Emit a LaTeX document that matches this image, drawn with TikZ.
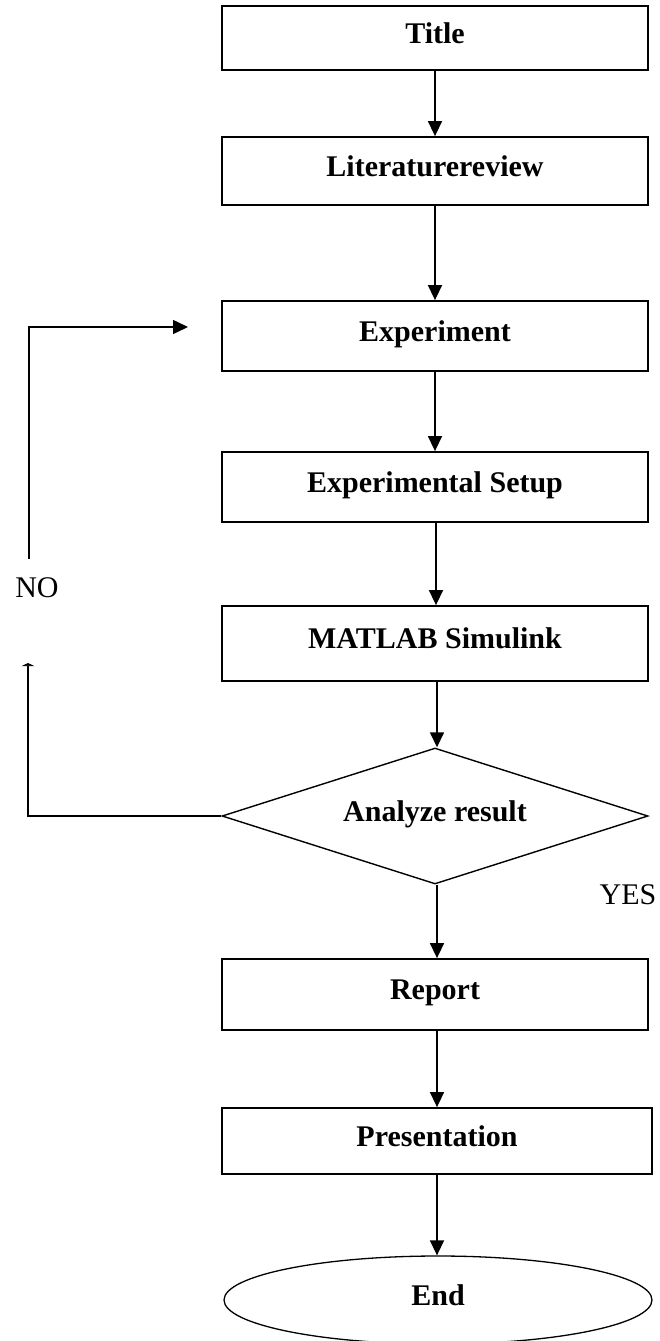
\documentclass[tikz,border=0pt]{standalone}
\usepackage{fontspec}
\setmainfont{Liberation Serif}
\usetikzlibrary{shapes.geometric,arrows.meta}
\tikzset{
  stepbox/.style={draw,line width=1.8pt,rectangle,minimum width=426pt,inner sep=0pt,
    font=\fontsize{30}{36}\selectfont\bfseries,text height=21pt,text depth=11pt},
  decbox/.style={draw,line width=1.4pt,diamond,aspect=3.13,minimum width=426pt,minimum height=136pt,inner sep=0pt,
    font=\fontsize{30}{36}\selectfont\bfseries,text height=21pt,text depth=11pt},
  endbox/.style={draw,line width=1.3pt,ellipse,minimum width=428pt,minimum height=88pt,inner sep=0pt,
    font=\fontsize{30}{36}\selectfont\bfseries,text height=21pt,text depth=11pt},
  lbl/.style={font=\fontsize{30}{36}\selectfont,inner sep=0pt},
  conn/.style={line width=1.5pt,-{Triangle[length=15pt,width=14pt]}},
  flatconn/.style={line width=1.5pt,-{Triangle[length=3pt,width=12pt]}}
}
\begin{document}
\begin{tikzpicture}[x=1pt,y=-1pt]
\useasboundingbox (0,0) rectangle (659,1341);
\clip (0,0) rectangle (659,1341);
\fill[white] (0,0) rectangle (659,1341);

\node[stepbox,minimum height=64pt] (title) at (435,38) {Title};
\node[stepbox,minimum height=68pt] (lit) at (435,171) {Literaturereview};
\node[stepbox,minimum height=70pt] (exp) at (435,336) {Experiment};
\node[stepbox,minimum height=70pt] (setup) at (435,487) {Experimental Setup};
\node[stepbox,minimum height=75pt] (matlab) at (435,643.5) {MATLAB Simulink};
\node[decbox] (ana) at (435,816) {Analyze result};
\node[stepbox,minimum height=71pt] (report) at (435,994.5) {Report};
\node[stepbox,minimum width=430pt,minimum height=66pt] (pres) at (437,1141) {Presentation};
\node[endbox] (end) at (438,1300) {End};

\node[lbl] (no) at (37,588) {NO};
\node[lbl] (yes) at (628,895) {YES};

\coordinate (c1) at (28,816);
\coordinate (c2) at (28,663);
\coordinate (c3) at (29,559);
\coordinate (c4) at (29,327);
\coordinate (c5) at (188,327);

\draw[conn] (title.south) -- (title.south |- lit.north);
\draw[conn] (lit.south) -- (lit.south |- exp.north);
\draw[conn] (exp.south) -- (exp.south |- setup.north);
\draw[conn] ([xshift=1pt]setup.south) -- ([xshift=1pt]setup.south |- matlab.north);
\draw[conn] ([xshift=2pt]matlab.south) -- ([xshift=2pt]matlab.south |- ana.north);
\draw[conn] ([xshift=2pt]ana.south) -- ([xshift=2pt]ana.south |- report.north);
\draw[conn] ([xshift=2pt]report.south) -- ([xshift=2pt]report.south |- pres.north);
\draw[conn] (pres.south) -- (pres.south |- end.north);

\draw[flatconn] (ana.west) -- (c1) -- (c2);
\draw[conn] (c3) -- (c4) -- (c5);
\end{tikzpicture}
\end{document}
